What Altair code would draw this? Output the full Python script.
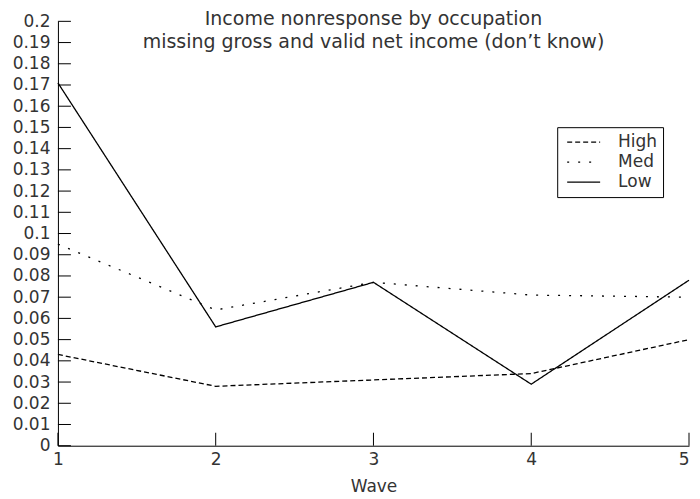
import altair as alt
import pandas as pd

waves = [1, 2, 3, 4, 5]
high = [0.043, 0.028, 0.031, 0.034, 0.050]
med = [0.095, 0.064, 0.077, 0.071, 0.070]
low = [0.171, 0.056, 0.077, 0.029, 0.078]
groups = ["High", "Med", "Low"]
y_ticks = [round(i * 0.01, 2) for i in range(21)]

rows = []
for g, vals in zip(groups, [high, med, low]):
    for w, v in zip(waves, vals):
        rows.append({"Wave": w, "value": v, "group": g})
df = pd.DataFrame(rows)

W, H = 632, 425
FONT = "DejaVu Sans"
TXT = "#333333"

xscale = alt.Scale(domain=[1, 5], nice=False)
yscale = alt.Scale(domain=[0, 0.2], nice=False)

x_axis = alt.Axis(values=waves, format="d", ticks=False, grid=False,
                  labelPadding=6, title="Wave", titlePadding=11,
                  domainColor="black", labelFontSize=17, titleFontSize=17,
                  titleFontWeight="normal", labelColor=TXT, titleColor=TXT,
                  labelFont=FONT, titleFont=FONT, labelFlush=False,
                  labelAlign={"condition": {"test": "datum.value == 5", "value": "right"},
                              "value": "center"})
y_axis = alt.Axis(values=y_ticks, format="~g", ticks=False, grid=False,
                  labelPadding=8, title=None, domainColor="black",
                  labelFontSize=17, labelColor=TXT, labelFont=FONT,
                  labelFlush=False, labelOverlap=False)

lines = alt.Chart(df).mark_line(color="black", strokeWidth=1.3).encode(
    x=alt.X("Wave:Q", scale=xscale, axis=x_axis, title="Wave"),
    y=alt.Y("value:Q", scale=yscale, axis=y_axis, title=None),
    strokeDash=alt.StrokeDash(
        "group:N",
        scale=alt.Scale(domain=groups, range=[[5, 3], [2, 9], [1, 0]]),
        sort=groups,
        legend=alt.Legend(title=None, orient="none", legendX=500, legendY=106,
                          strokeColor="black", fillColor="white", padding=5,
                          symbolType="stroke", symbolSize=1089, symbolStrokeColor="black",
                          symbolStrokeWidth=1.2, symbolOffset=4,
                          labelFontSize=17, labelFont=FONT,
                          labelColor=TXT, labelOffset=17, rowPadding=0,
                          clipHeight=20,
                          labelExpr="datum.label + '\u00a0\u00a0'",
                          cornerRadius=0)),
)

ytick_df = pd.DataFrame({"t": y_ticks})
yticks = alt.Chart(ytick_df).mark_rule(color="black", strokeWidth=1).encode(
    y=alt.Y("t:Q", scale=yscale, axis=y_axis, title=None),
    x=alt.value(0), x2=alt.value(13),
)

xtick_df = pd.DataFrame({"w": waves})
xticks = alt.Chart(xtick_df).mark_rule(color="black", strokeWidth=1).encode(
    x=alt.X("w:Q", scale=xscale, axis=x_axis, title="Wave"),
    y=alt.value(H), y2=alt.value(H - 13),
)

chart = alt.layer(lines, yticks, xticks).properties(
    width=W, height=H,
    padding={"left": 4, "top": 2, "right": 0, "bottom": 0},
    title=alt.TitleParams(
        text=["Income nonresponse by occupation",
              "missing gross and valid net income (don\u2019t know)"],
        fontSize=19, font=FONT, fontWeight="normal", color=TXT,
        anchor="middle", offset=-40, lineHeight=23),
).configure_view(stroke=None)

chart.save("out.html", embed_options={"renderer": "svg", "actions": False})
